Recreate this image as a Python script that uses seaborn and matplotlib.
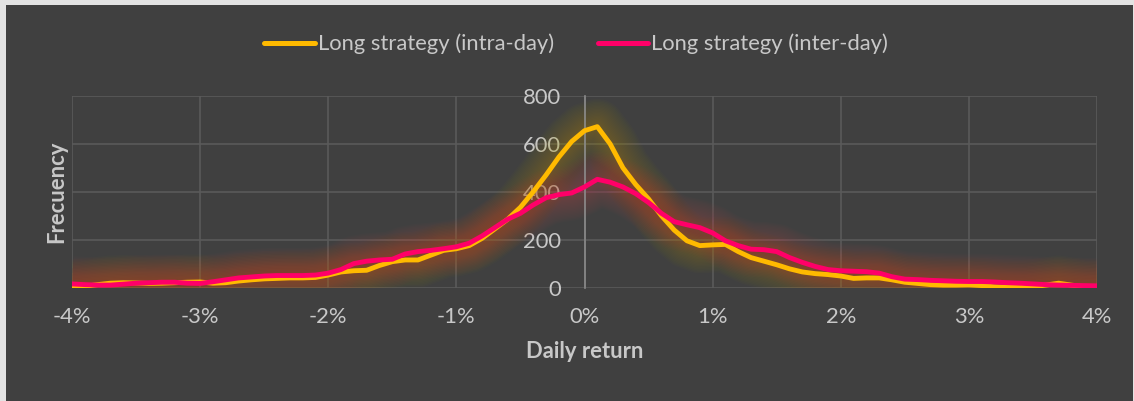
import numpy as np
import pandas as pd
import matplotlib
matplotlib.use("Agg")
import matplotlib.pyplot as plt
import seaborn as sns
from matplotlib.patches import Rectangle

# daily return bins (%), -4% .. 4% in 0.1% steps
returns = np.round(np.arange(-40, 41) / 10.0, 1)

intra_day = [0, 5, 12, 18, 20, 19, 17, 18, 20, 22,
             23, 18, 20, 27, 32, 36, 38, 40, 40, 42,
             52, 65, 70, 72, 92, 108, 115, 115, 135, 155,
             162, 175, 205, 245, 285, 335, 400, 470, 545, 610,
             655, 672, 600, 500, 430, 370, 300, 240, 195, 175,
             178, 180, 150, 125, 110, 95, 78, 65, 58, 54,
             48, 38, 40, 40, 32, 22, 17, 12, 10, 10,
             11, 8, 3, 1, 0, 3, 10, 18, 10, 3,
             0]

inter_day = [15, 12, 10, 10, 14, 18, 20, 22, 22, 18,
             17, 24, 32, 40, 44, 48, 50, 50, 50, 52,
             60, 75, 100, 110, 115, 118, 140, 150, 155, 162,
             170, 185, 215, 250, 285, 310, 345, 375, 388, 395,
             420, 452, 440, 420, 392, 355, 310, 275, 262, 250,
             228, 195, 175, 160, 158, 150, 125, 105, 88, 75,
             70, 68, 66, 60, 45, 35, 33, 30, 28, 26,
             25, 25, 23, 20, 18, 15, 12, 10, 9, 8,
             7]

series_names = ["Long strategy (intra-day)", "Long strategy (inter-day)"]
series_colors = ["#FFBA00", "#FF0068"]
glow_colors = ["#B89A10", "#C8404E"]
x_ticks = [-4, -3, -2, -1, 0, 1, 2, 3, 4]
x_ticklabels = ["-4%", "-3%", "-2%", "-1%", "0%", "1%", "2%", "3%", "4%"]
y_ticks = [0, 200, 400, 600, 800]

df = pd.DataFrame({"ret": returns, series_names[0]: intra_day, series_names[1]: inter_day})

sns.set_theme(style="dark")
plt.rcParams['font.family'] = ['Lato', 'DejaVu Sans']
txt = "#C8C8C8"
bg = "#404040"
fs = 15.8

fig = plt.figure(figsize=(11.34, 4.01), dpi=100, facecolor="#E3E3E3")
fig.patches.append(Rectangle((6 / 1134, 0), 1127 / 1134, 396 / 401,
                             transform=fig.transFigure, facecolor=bg,
                             edgecolor="none", zorder=-10))
ax = fig.add_axes([72 / 1134, 1 - 287.5 / 401, 1025 / 1134, 191.5 / 401])
ax.set_facecolor(bg)

# soft glow under the lines
for name, col in zip(series_names, glow_colors):
    for lw in range(40, 5, -2):
        sns.lineplot(data=df, x="ret", y=name, ax=ax, color=col, lw=lw,
                     alpha=0.024, legend=False, zorder=1,
                     solid_capstyle="butt", solid_joinstyle="round")

handles = []
for name, col in zip(series_names, series_colors):
    sns.lineplot(data=df, x="ret", y=name, ax=ax, color=col, lw=3.5,
                 legend=False, zorder=3, solid_joinstyle="round")
    handles.append(ax.lines[-1])

ax.set_xlim(-4, 4)
ax.set_ylim(0, 800)
ax.set_xticks(x_ticks)
ax.set_xticklabels(x_ticklabels)
ax.set_yticks(y_ticks)
ax.grid(True, color="#5A5A5A", lw=1.2, zorder=0)
for s in ["top", "right", "bottom"]:
    ax.spines[s].set_visible(False)
ax.spines["left"].set_position(("data", 0))
ax.spines["left"].set_color("#8A8A8A")
ax.spines["left"].set_linewidth(1.2)
ax.tick_params(axis="x", length=0, pad=14, labelsize=fs, labelcolor=txt)
ax.tick_params(axis="y", length=0, pad=17, labelsize=fs, labelcolor=txt)

ax.set_xlabel("Daily return", fontsize=fs, fontweight="bold", color=txt, labelpad=10)
ax.set_ylabel("")
fig.text(57 / 1134, 1 - 192 / 401, "Frecuency", rotation=90, fontsize=fs,
         fontweight="bold", color=txt, ha="center", va="center")

fig.legend(handles, series_names, loc="center", bbox_to_anchor=(576 / 1134, 1 - 44 / 401),
           ncol=2, frameon=False, fontsize=fs, labelcolor=txt,
           handlelength=2.3, handletextpad=0.12, columnspacing=2.0)
for h in fig.legends[0].get_lines():
    h.set_linewidth(3.6)

fig.savefig("out.png", dpi=100, facecolor=fig.get_facecolor())
